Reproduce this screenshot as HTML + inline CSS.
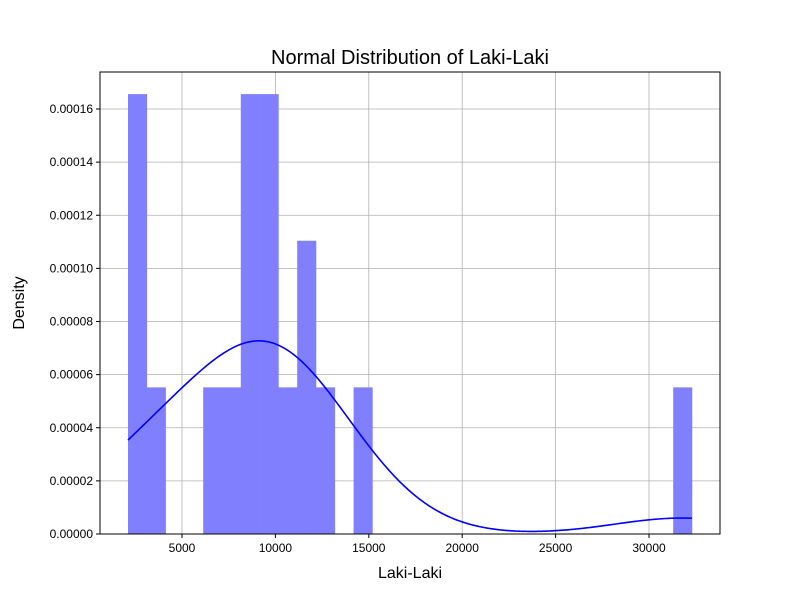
<!DOCTYPE html>
<html><head><meta charset="utf-8"><style>
body{margin:0;background:#fff;font-family:"Liberation Sans","DejaVu Sans",sans-serif}
</style></head><body>
<svg id="chart" width="800" height="600" xmlns="http://www.w3.org/2000/svg">
<rect width="800" height="600" fill="#fff"/>
<g id="grid"></g><g id="bars"></g><g id="curve"></g><g id="axes"></g>
<text x="410" y="64" text-anchor="middle" font-size="20">Normal Distribution of Laki-Laki</text>
<text x="410" y="578" text-anchor="middle" font-size="16">Laki-Laki</text>
<text transform="translate(24,303) rotate(-90)" text-anchor="middle" font-size="16">Density</text>
</svg>
<script>
const binStart = 2109;
const binWidth = 1006.4;
const binCounts = [3,1,0,0,1,1,3,3,1,2,1,0,1,0,0,0,0,0,0,0,0,0,0,0,0,0,0,0,0,1];
const samples = [2600,2600,2600,3600,6600,7600,8600,8600,8600,9600,9600,9600,10600,11600,11600,12600,14600,31800];
const xTicks = [5000,10000,15000,20000,25000,30000];
const yTicks = [0,0.00002,0.00004,0.00006,0.00008,0.0001,0.00012,0.00014,0.00016];
const yTickLabels = ["0.00000","0.00002","0.00004","0.00006","0.00008","0.00010","0.00012","0.00014","0.00016"];
const L=100,R=720,T=72,B=534;
const X=v=>182+(v-5000)*93.4/5000;
const Y=v=>534-v*(425/0.00016);
const NS="http://www.w3.org/2000/svg";
function mk(tag,attrs,parent,text){const e=document.createElementNS(NS,tag);for(const k in attrs)e.setAttribute(k,attrs[k]);if(text!==undefined)e.textContent=text;document.getElementById(parent)?document.getElementById(parent).appendChild(e):parent.appendChild(e);return e;}
const N=binCounts.reduce((a,b)=>a+b,0);
binCounts.forEach((c,i)=>{if(!c)return;const d=c/(N*binWidth);
 const r=mk('rect',{x:X(binStart+i*binWidth),y:Y(d),width:X(binStart+(i+1)*binWidth)-X(binStart+i*binWidth)+0.3,height:Y(0)-Y(d),fill:'#8080ff'},'bars');
 
 
});
xTicks.forEach(t=>{const l=mk('line',{x1:X(t),x2:X(t),y1:T,y2:B,stroke:'#b0b0b0','stroke-width':0.8},'grid');
 
 mk('line',{x1:X(t),x2:X(t),y1:B,y2:B+4,stroke:'#000'},'axes');
 const tx=mk('text',{x:X(t),y:B+18,'text-anchor':'middle','font-size':12},'axes',String(t));
 });
yTicks.forEach((t,i)=>{const l=mk('line',{x1:L,x2:R,y1:Y(t),y2:Y(t),stroke:'#b0b0b0','stroke-width':0.8},'grid');
 
 mk('line',{x1:L-4,x2:L,y1:Y(t),y2:Y(t),stroke:'#000'},'axes');
 const tx=mk('text',{x:L-7,y:Y(t)+4,'text-anchor':'end','font-size':12},'axes',yTickLabels[i]);
 });
// KDE
const n=samples.length,mean=samples.reduce((a,b)=>a+b,0)/n;
const sd=Math.sqrt(samples.reduce((a,b)=>a+(b-mean)**2,0)/(n-1));
const bw=sd*Math.pow(n,-0.2);
const xmin=binStart,xmax=binStart+30*binWidth;let d='';
for(let k=0;k<=300;k++){const x=xmin+(xmax-xmin)*k/300;let s=0;samples.forEach(v=>s+=Math.exp(-0.5*((x-v)/bw)**2));s/=n*bw*Math.sqrt(2*Math.PI);d+=(k?'L':'M')+X(x).toFixed(2)+','+Y(s).toFixed(2);}
const p=mk('path',{d:d,fill:'none',stroke:'#0000ff','stroke-width':1.6},'curve');


const f=mk('rect',{x:L,y:T,width:R-L,height:B-T,fill:'none',stroke:'#000','stroke-width':1},'axes');


</script>
</body></html>
